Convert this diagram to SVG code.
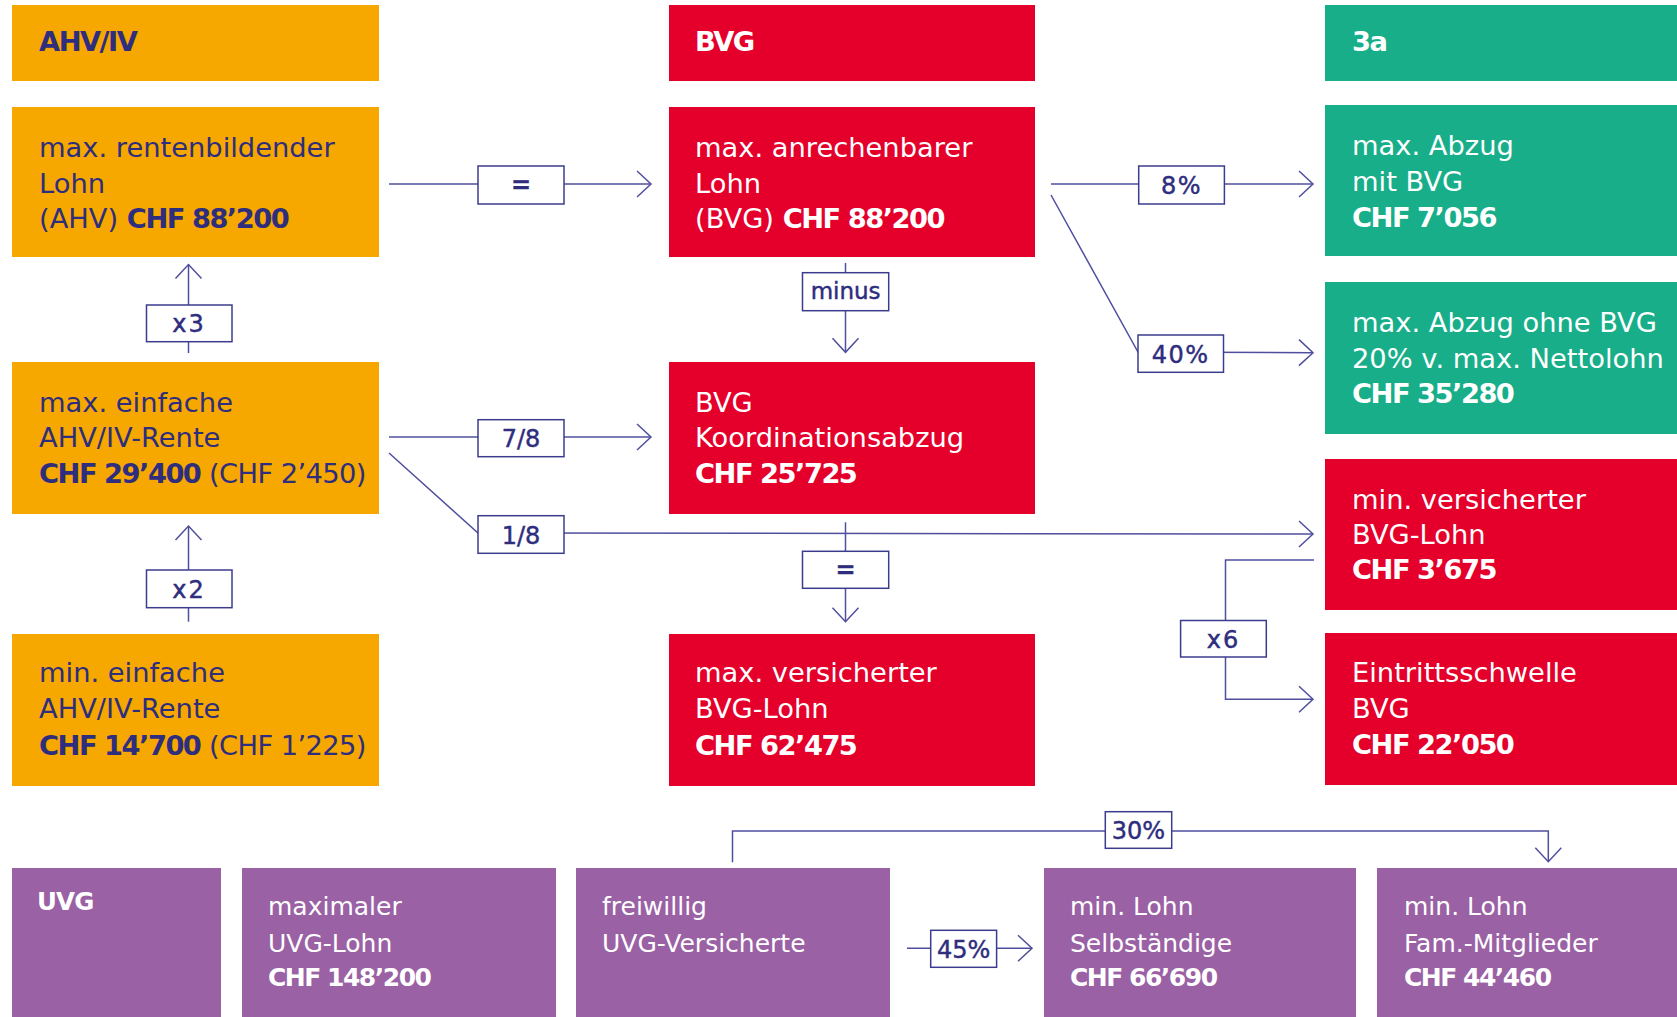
<svg xmlns="http://www.w3.org/2000/svg" width="1677" height="1017" viewBox="0 0 1677 1017">
<defs>
<style>
.t{font-family:"DejaVu Sans",sans-serif;font-size:27.3px}
.s{font-size:25px}
.b{font-weight:bold;letter-spacing:-1.5px}
.nv{fill:#2E2D7E}
.wh{fill:#ffffff}
.or{fill:#F6A800}
.rd{fill:#E4002B}
.gr{fill:#17AE89}
.pu{fill:#9A61A5}
.cn{fill:none;stroke:#4F4F9E;stroke-width:1.5}
.lb{fill:#ffffff;stroke:#3C3C8E;stroke-width:1.5}
.lt{font-family:"DejaVu Sans",sans-serif;font-size:24px;fill:#2E2D7E;stroke:#2E2D7E;stroke-width:0.45px;text-anchor:middle}
</style>
<marker id="ah" markerUnits="userSpaceOnUse" markerWidth="18" markerHeight="30" viewBox="-16 -15 18 30" refX="0" refY="0" orient="auto">
<path d="M-14,-13 L0,0 L-14,13" fill="none" stroke="#4F4F9E" stroke-width="1.5"/>
</marker>
</defs>
<rect width="1677" height="1017" fill="#ffffff"/>

<g id="ahv-header"><rect class="or" x="12" y="5" width="367" height="76"/><text class="t b nv" x="39" y="51">AHV/IV</text></g>
<g id="bvg-header"><rect class="rd" x="669" y="5" width="366" height="76"/><text class="t b wh" x="695" y="51">BVG</text></g>
<g id="3a-header"><rect class="gr" x="1325" y="5" width="352" height="76"/><text class="t b wh" x="1352" y="51">3a</text></g>

<g id="ahv-lohn"><rect class="or" x="12" y="107" width="367" height="150"/>
<text class="t nv" x="39" y="156.5">max. rentenbildender</text>
<text class="t nv" x="39" y="192.7">Lohn</text>
<text class="t nv" x="39" y="228.3">(AHV) <tspan class="b">CHF 88’200</tspan></text></g>

<g id="bvg-lohn"><rect class="rd" x="669" y="107" width="366" height="150"/>
<text class="t wh" x="695" y="156.5">max. anrechenbarer</text>
<text class="t wh" x="695" y="192.7">Lohn</text>
<text class="t wh" x="695" y="228.3">(BVG) <tspan class="b">CHF 88’200</tspan></text></g>

<g id="3a-mit"><rect class="gr" x="1325" y="105" width="352" height="151"/>
<text class="t wh" x="1352" y="155">max. Abzug</text>
<text class="t wh" x="1352" y="190.7">mit BVG</text>
<text class="t b wh" x="1352" y="226.7">CHF 7’056</text></g>

<g id="3a-ohne"><rect class="gr" x="1325" y="282" width="352" height="152"/>
<text class="t wh" x="1352" y="331.7">max. Abzug ohne BVG</text>
<text class="t wh" x="1352" y="367.7">20% v. max. Nettolohn</text>
<text class="t b wh" x="1352" y="403.3">CHF 35’280</text></g>

<g id="ahv-max-rente"><rect class="or" x="12" y="362" width="367" height="152"/>
<text class="t nv" x="39" y="411.7">max. einfache</text>
<text class="t nv" x="39" y="447.3">AHV/IV-Rente</text>
<text class="t nv" x="39" y="483.3"><tspan class="b">CHF 29’400</tspan> <tspan style="letter-spacing:-0.6px">(CHF 2’450)</tspan></text></g>

<g id="bvg-koord"><rect class="rd" x="669" y="362" width="366" height="152"/>
<text class="t wh" x="695" y="411.7">BVG</text>
<text class="t wh" x="695" y="447.3">Koordinationsabzug</text>
<text class="t b wh" x="695" y="483.3">CHF 25’725</text></g>

<g id="bvg-min-lohn"><rect class="rd" x="1325" y="459" width="352" height="151"/>
<text class="t wh" x="1352" y="509">min. versicherter</text>
<text class="t wh" x="1352" y="544.3">BVG-Lohn</text>
<text class="t b wh" x="1352" y="579">CHF 3’675</text></g>

<g id="ahv-min-rente"><rect class="or" x="12" y="634" width="367" height="152"/>
<text class="t nv" x="39" y="681.7">min. einfache</text>
<text class="t nv" x="39" y="718.3">AHV/IV-Rente</text>
<text class="t nv" x="39" y="755"><tspan class="b">CHF 14’700</tspan> <tspan style="letter-spacing:-0.6px">(CHF 1’225)</tspan></text></g>

<g id="bvg-max-lohn"><rect class="rd" x="669" y="634" width="366" height="152"/>
<text class="t wh" x="695" y="681.7">max. versicherter</text>
<text class="t wh" x="695" y="718.3">BVG-Lohn</text>
<text class="t b wh" x="695" y="755">CHF 62’475</text></g>

<g id="bvg-eintritt"><rect class="rd" x="1325" y="633" width="352" height="152"/>
<text class="t wh" x="1352" y="682.3">Eintrittsschwelle</text>
<text class="t wh" x="1352" y="718.3">BVG</text>
<text class="t b wh" x="1352" y="754.3">CHF 22’050</text></g>

<g id="uvg-header"><rect class="pu" x="12" y="868" width="209" height="149"/>
<text class="t b wh" x="37" y="910" style="font-size:24.5px;letter-spacing:-0.8px">UVG</text></g>

<g id="uvg-max"><rect class="pu" x="242" y="868" width="314" height="149"/>
<text class="t s wh" x="268" y="915">maximaler</text>
<text class="t s wh" x="268" y="951.5">UVG-Lohn</text>
<text class="t s b wh" x="268" y="986">CHF 148’200</text></g>

<g id="uvg-freiwillig"><rect class="pu" x="576" y="868" width="314" height="149"/>
<text class="t s wh" x="602" y="915">freiwillig</text>
<text class="t s wh" x="602" y="951.5">UVG-Versicherte</text></g>

<g id="uvg-selbst"><rect class="pu" x="1044" y="868" width="312" height="149"/>
<text class="t s wh" x="1070" y="915">min. Lohn</text>
<text class="t s wh" x="1070" y="951.5">Selbständige</text>
<text class="t s b wh" x="1070" y="986">CHF 66’690</text></g>

<g id="uvg-fam"><rect class="pu" x="1377" y="868" width="300" height="149"/>
<text class="t s wh" x="1404" y="915">min. Lohn</text>
<text class="t s wh" x="1404" y="951.5">Fam.-Mitglieder</text>
<text class="t s b wh" x="1404" y="986">CHF 44’460</text></g>

<g id="connectors">
<line class="cn" x1="389" y1="184" x2="651" y2="184" marker-end="url(#ah)"/>
<line class="cn" x1="188.5" y1="353" x2="188.5" y2="264.5" marker-end="url(#ah)"/>
<line class="cn" x1="188.5" y1="621.7" x2="188.5" y2="526" marker-end="url(#ah)"/>
<line class="cn" x1="389" y1="437" x2="651" y2="437" marker-end="url(#ah)"/>
<polyline class="cn" points="389,453 478,533 1313,534" marker-end="url(#ah)"/>
<line class="cn" x1="845.5" y1="263" x2="845.5" y2="352.3" marker-end="url(#ah)"/>
<line class="cn" x1="845.5" y1="522.3" x2="845.5" y2="621.7" marker-end="url(#ah)"/>
<line class="cn" x1="1051" y1="184" x2="1313" y2="184" marker-end="url(#ah)"/>
<polyline class="cn" points="1051,195 1138,352 1313,352.7" marker-end="url(#ah)"/>
<polyline class="cn" points="1314,560 1225.5,560 1225.5,699.3 1313,699.3" marker-end="url(#ah)"/>
<polyline class="cn" points="732.5,862.3 732.5,831 1548.3,831 1548.3,861.7" marker-end="url(#ah)"/>
<line class="cn" x1="907" y1="948.3" x2="1032" y2="948.3" marker-end="url(#ah)"/>

<rect class="lb" x="478" y="166" width="86" height="38"/><text class="lt" x="521" y="193" style="font-weight:bold">=</text>
<rect class="lb" x="146.5" y="305" width="85.5" height="36.7"/><text class="lt" x="189" y="332" style="letter-spacing:2px">x3</text>
<rect class="lb" x="146.5" y="570" width="85.5" height="37.7"/><text class="lt" x="189" y="597.5" style="letter-spacing:2px">x2</text>
<rect class="lb" x="478" y="419.7" width="86" height="37"/><text class="lt" x="521" y="447">7/8</text>
<rect class="lb" x="478" y="515.7" width="86" height="37.6"/><text class="lt" x="521" y="543.5">1/8</text>
<rect class="lb" x="802.5" y="272.7" width="86.2" height="38"/><text class="lt" x="845.6" y="299" style="font-size:23px">minus</text>
<rect class="lb" x="802.5" y="551.3" width="86.2" height="37" /><text class="lt" x="845.6" y="578" style="font-weight:bold">=</text>
<rect class="lb" x="1138.7" y="166" width="85.7" height="38"/><text class="lt" x="1181.5" y="193.5" style="letter-spacing:1.5px">8%</text>
<rect class="lb" x="1138" y="335" width="85.5" height="37.3"/><text class="lt" x="1180.7" y="362.5" style="letter-spacing:1.5px">40%</text>
<rect class="lb" x="1180.6" y="620.5" width="85.7" height="36.5"/><text class="lt" x="1223.5" y="647.5" style="letter-spacing:2px">x6</text>
<rect class="lb" x="1105.3" y="811.7" width="66.4" height="36.6"/><text class="lt" x="1138.5" y="839">30%</text>
<rect class="lb" x="930.7" y="930.3" width="65.9" height="37"/><text class="lt" x="963.6" y="957.5">45%</text>
</g>
</svg>
